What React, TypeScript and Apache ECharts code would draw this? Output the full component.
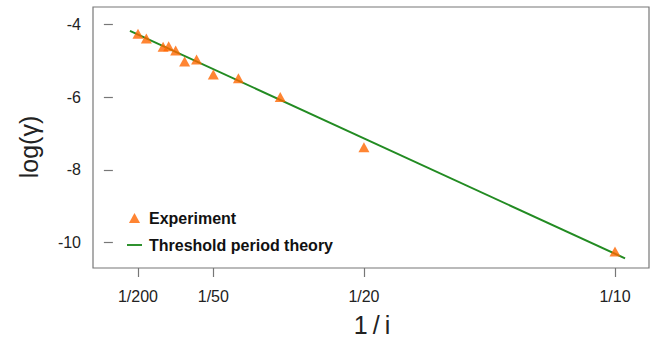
import React, { useEffect, useRef } from "react";
import * as echarts from "echarts";

const invI = [200, 150, 100, 90, 80, 70, 60, 50, 40, 30, 20, 10];
const logGamma = [-4.26, -4.39, -4.62, -4.6, -4.72, -5.02, -4.97, -5.38, -5.48, -6.0, -7.38, -10.24];
const theoryX = [0.0034, 0.102];
const theoryY = [-4.18, -10.43];
const xTickValues = [1 / 200, 1 / 50, 1 / 20, 1 / 10];
const xTickLabels = ["1/200", "1/50", "1/20", "1/10"];
const yTickValues = [-4, -6, -8, -10];

const FONT = "'Liberation Sans', Arial, Helvetica, sans-serif";
const AXIS_GRAY = "#777777";

export default function App() {
  const ref = useRef<HTMLDivElement>(null);
  useEffect(() => {
    if (!ref.current) return;
    const chart = echarts.init(ref.current, undefined, { renderer: "svg" });
    const expData = invI.map((d, k) => [1 / d, logGamma[k]]);
    const lineData = theoryX.map((x, k) => [x, theoryY[k]]);
    chart.setOption({
      animation: false,
      backgroundColor: "#ffffff",
      grid: {
        left: 93,
        top: 7,
        right: 4,
        bottom: 71,
        show: true,
        borderColor: AXIS_GRAY,
        borderWidth: 1.2,
        backgroundColor: "transparent",
      },
      xAxis: {
        type: "value",
        min: -0.00396,
        max: 0.10677,
        axisLine: { show: false },
        splitLine: { show: false },
        axisTick: {
          show: true,
          length: 9,
          lineStyle: { color: AXIS_GRAY, width: 1.2 },
          customValues: xTickValues,
        },
        axisLabel: {
          fontFamily: FONT,
          fontSize: 16,
          color: "#222",
          margin: 20,
          customValues: xTickValues,
          formatter: (v: number) => {
            const i = xTickValues.findIndex((t) => Math.abs(t - v) < 1e-9);
            return i >= 0 ? xTickLabels[i] : "";
          },
        },
      },
      yAxis: {
        type: "value",
        min: -10.695,
        max: -3.525,
        axisLine: { show: false },
        splitLine: { show: false },
        axisTick: {
          show: true,
          length: 9,
          lineStyle: { color: AXIS_GRAY, width: 1.2 },
          customValues: yTickValues,
        },
        axisLabel: {
          fontFamily: FONT,
          fontSize: 16,
          color: "#222",
          margin: 12,
          customValues: yTickValues,
          formatter: (v: number) => String(v),
        },
      },
      legend: {
        orient: "vertical",
        left: 127,
        top: 210,
        padding: 0,
        itemWidth: 15,
        itemHeight: 10,
        itemGap: 11,
        symbolKeepAspect: true,
        textStyle: { fontFamily: FONT, fontSize: 16, fontWeight: "bold", color: "#111", padding: [0, 0, 0, 2] },
        data: [
          { name: "Experiment", icon: "path://M5,0 L10,9 L0,9 Z" },
          { name: "Threshold period theory", icon: "path://M0,0 L16,0 L16,2 L0,2 Z" },
        ],
      },
      graphic: [
        {
          type: "text",
          x: 29,
          y: 147,
          rotation: Math.PI / 2,
          style: {
            text: "log(γ)",
            fontFamily: FONT,
            fontSize: 25,
            fill: "#222",
            align: "center",
            verticalAlign: "middle",
          },
        },
        {
          type: "text",
          x: 372,
          y: 325,
          style: {
            text: "1\u2009/\u2009i",
            fontFamily: FONT,
            fontSize: 25,
            fill: "#222",
            align: "center",
            verticalAlign: "middle",
          },
        },
      ],
      series: [
        {
          name: "Threshold period theory",
          type: "line",
          data: lineData,
          symbol: "none",
          lineStyle: { color: "#228B22", width: 2 },
          itemStyle: { color: "#228B22" },
          z: 2,
        },
        {
          name: "Experiment",
          type: "scatter",
          data: expData,
          symbol: "triangle",
          symbolSize: [11, 10],
          itemStyle: { color: "#FF6600" },
          z: 3,
        },
      ],
    });
    return () => chart.dispose();
  }, []);
  return (
    <div
      ref={ref}
      style={{ position: "fixed", left: 0, top: 0, width: 653, height: 339, background: "#fff" }}
    />
  );
}
